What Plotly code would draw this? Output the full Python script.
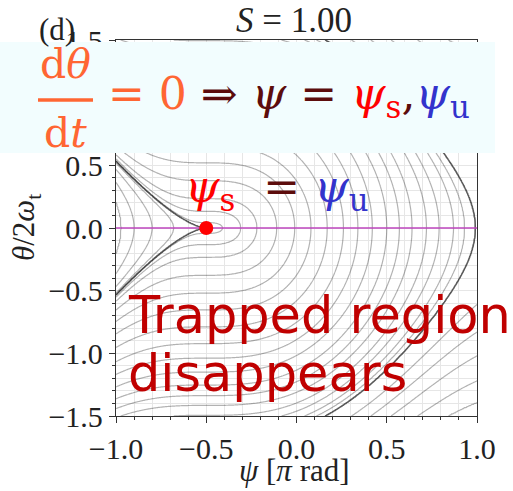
import numpy as np
import plotly.graph_objects as go

# ---- model parameters -------------------------------------------------------
S = 1.00      # drive ratio (title)
A = 0.5       # potential amplitude, theta measured in units of 2*omega_t

# ---- axes -------------------------------------------------------------------
psi_range = [-1.0, 1.0]      # psi in units of pi rad
theta_range = [-1.5, 1.5]    # theta / 2 omega_t
x_ticks = [-1.0, -0.5, 0.0, 0.5, 1.0]
y_ticks = [-1.5, -1.0, -0.5, 0.0, 0.5, 1.0, 1.5]

# ---- orbits that are drawn ----------------------------------------------------
# psi (pi rad) where each drawn orbit crosses theta = 0
orbit_psi_crossings = [-0.97, -0.90, -0.80, -0.68,
                       -0.41, -0.31, -0.22, -0.11, -0.01, 0.08, 0.17, 0.26,
                       0.34, 0.42, 0.50, 0.57, 0.64, 0.72, 0.79, 0.87, 0.93]
# theta where the outer orbits meet the psi = 1 edge
orbit_theta_at_edge = [-0.61, -0.83, -1.02, -1.22, -1.39]
# highlighted outer orbit (psi crossing at theta = 0)
dark_outer_crossing = 0.99

# fixed point: sin(psi) = -S
psi_s = float(np.arcsin(-S) / np.pi)
theta_nullcline = 0.0


def potential(psi_pi):
    p = np.pi * np.asarray(psi_pi, dtype=float)
    return A * (S * p - np.cos(p))


psi = np.linspace(psi_range[0], psi_range[1], 401)
theta = np.linspace(theta_range[0], theta_range[1], 361)
PSI, THETA = np.meshgrid(psi, theta)
H = THETA ** 2 + potential(PSI)

levels = np.sort(np.concatenate([
    potential(orbit_psi_crossings),
    np.array(orbit_theta_at_edge) ** 2 + potential(1.0),
]))
n_lv = len(levels)
pad = 10.0
z_orbits = np.interp(H, np.concatenate([[levels[0] - pad], levels, [levels[-1] + pad]]),
                     np.arange(-1, n_lv + 1, dtype=float))

dark_levels = np.sort(np.array([potential(psi_s), potential(dark_outer_crossing)]))
z_dark = np.interp(H, np.concatenate([[dark_levels[0] - pad], dark_levels, [dark_levels[-1] + pad]]),
                   np.arange(-1, 3, dtype=float))

# ---- page geometry (pixels) -------------------------------------------------
W, Hpx = 513, 491
ML, MR, MT, MB = 116, 36, 40, 75
PW = W - ML - MR
PH = Hpx - MT - MB


def px(xp):
    return (xp - ML) / PW


def py(yp):
    return (Hpx - MB - yp) / PH


SERIF = "Liberation Serif, DejaVu Serif, serif"
MATH = "DejaVu Serif, serif"
SANS = "DejaVu Sans, Verdana, sans-serif"
ORANGE = "rgb(255,102,51)"
MAROON = "rgb(92,12,12)"
RED = "rgb(255,0,0)"
BLUE = "rgb(51,51,204)"
DARKRED = "rgb(192,0,0)"
INK = "#222"

fig = go.Figure()

gray = "rgba(0,0,0,0.3)"
fig.add_trace(go.Contour(
    x=psi, y=theta, z=z_orbits,
    contours=dict(start=0, end=n_lv - 1, size=1, coloring="lines"),
    colorscale=[[0, gray], [1, gray]], showscale=False,
    line=dict(width=1.2, smoothing=1.0), hoverinfo="skip",
))
dark = "rgba(20,20,20,0.7)"
fig.add_trace(go.Contour(
    x=psi, y=theta, z=z_dark,
    contours=dict(start=0, end=1, size=1, coloring="lines"),
    colorscale=[[0, dark], [1, dark]], showscale=False,
    line=dict(width=1.6, smoothing=1.0), hoverinfo="skip",
))

# theta = 0 line
fig.add_trace(go.Scatter(
    x=psi_range, y=[theta_nullcline, theta_nullcline], mode="lines",
    line=dict(color="rgb(190,70,190)", width=1.3), hoverinfo="skip", showlegend=False,
))
# coincident stable / unstable point
fig.add_trace(go.Scatter(
    x=[psi_s], y=[theta_nullcline], mode="markers",
    marker=dict(color=RED, size=14), hoverinfo="skip", showlegend=False,
))

axis_common = dict(
    showline=True, linecolor="#333", linewidth=1.3, mirror=True,
    ticks="outside", ticklen=6, tickcolor="#333", tickwidth=1.2,
    showgrid=True, gridcolor="#e6e6e6", gridwidth=1, zeroline=False,
    tickfont=dict(family=SERIF, size=30, color=INK),
    tickformat=".1f",
)
fig.update_xaxes(range=psi_range, tickvals=x_ticks,
                 minor=dict(dtick=0.1, ticks="outside", ticklen=3, tickcolor="#333",
                            showgrid=True, gridcolor="#e6e6e6"),
                 **axis_common)
fig.update_yaxes(range=theta_range, tickvals=y_ticks,
                 minor=dict(dtick=0.1, ticks="outside", ticklen=3, tickcolor="#333",
                            showgrid=True, gridcolor="#e6e6e6"),
                 **axis_common)

shapes = [
    dict(type="rect", xref="paper", yref="paper", x0=px(0), x1=px(495), y0=py(153), y1=py(42),
         fillcolor="rgb(242,253,254)", line=dict(width=0), layer="above"),
    dict(type="line", xref="paper", yref="paper", x0=px(38), x1=px(93), y0=py(100), y1=py(100),
         line=dict(color=ORANGE, width=3.5), layer="above"),
]

ann = []


def label(text, xp, yp, size, color, family=SERIF, xanchor="center", yanchor="middle", angle=0):
    ann.append(dict(text=text, xref="paper", yref="paper", x=px(xp), y=py(yp),
                    xanchor=xanchor, yanchor=yanchor, showarrow=False, textangle=angle,
                    font=dict(family=family, size=size, color=color)))


label("<i>S</i> = 1.00", 294, 20, 35, INK)
label("(d)", 57, 30, 31, INK)
label("<i>ψ</i> [<i>π</i> rad]", 294, 471, 31, INK)
label("<i>θ</i>/2<i>ω</i><sub>t</sub>", 26, 228, 31, INK, angle=-90)

label("d<i>θ</i>", 65, 64, 41, ORANGE, family=MATH)
label("d<i>t</i>", 65, 133, 41, ORANGE, family=MATH)
label("= 0 <span style='color:%s'>⇒ <i>ψ</i> = </span>"
      "<span style='color:%s'><i>ψ</i><sub>s</sub></span>"
      "<span style='color:%s'>,</span>"
      "<span style='color:%s'><i>ψ</i><sub>u</sub></span>" % (MAROON, RED, MAROON, BLUE),
      106, 96, 44, ORANGE, family=MATH, xanchor="left")

label("<span style='color:%s'><i>ψ</i><sub>s</sub></span>"
      "<span style='color:%s'>&nbsp;&nbsp;= </span>"
      "<span style='color:%s'><i>ψ</i><sub>u</sub></span>" % (RED, MAROON, BLUE),
      183, 189, 44, RED, family=MATH, xanchor="left")

label("Trapped region", 126, 315, 51, DARKRED, family=SANS, xanchor="left")
label("disappears", 126, 373, 51, DARKRED, family=SANS, xanchor="left")

fig.update_layout(
    width=W, height=Hpx,
    margin=dict(l=ML, r=MR, t=MT, b=MB),
    plot_bgcolor="white", paper_bgcolor="white",
    showlegend=False, shapes=shapes, annotations=ann,
)

fig.write_html("out.html")
